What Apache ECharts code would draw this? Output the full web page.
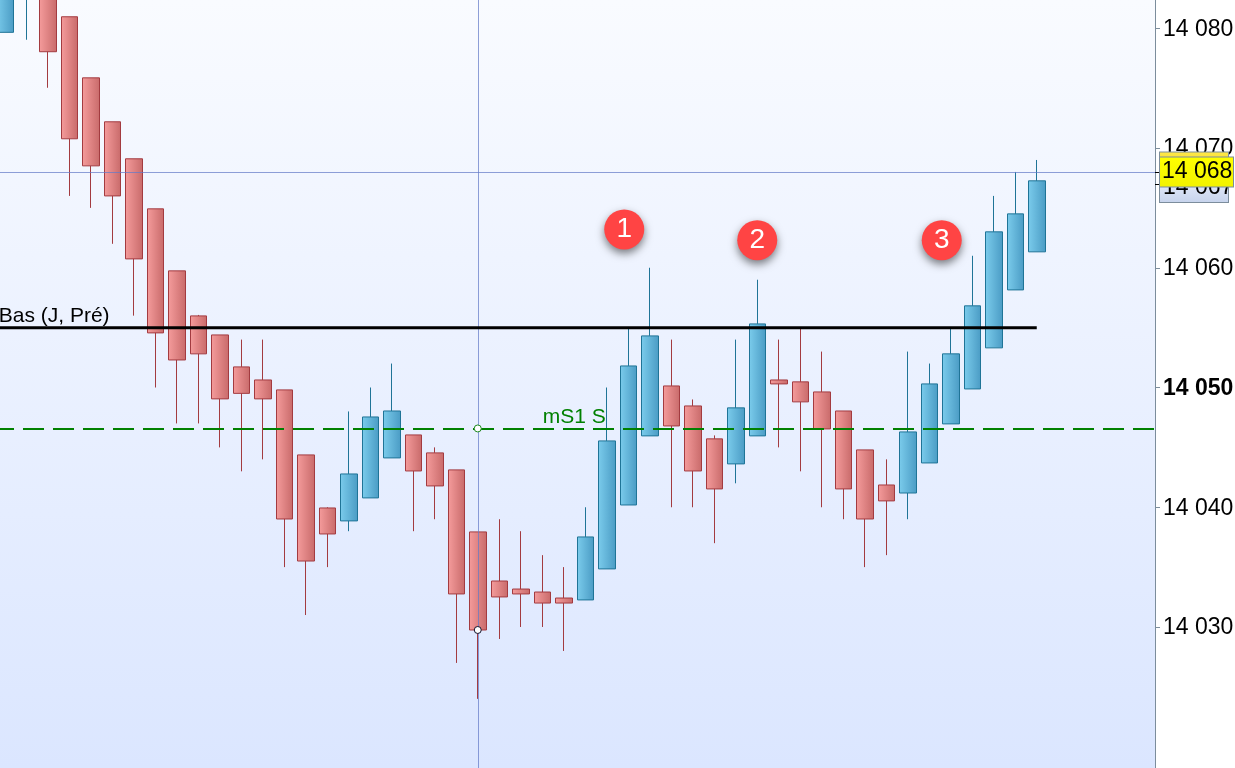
<!DOCTYPE html>
<html>
<head>
<meta charset="utf-8">
<style>html,body{margin:0;padding:0;background:#fff;overflow:hidden}#c{width:1235px;height:768px}</style>
<script src="https://cdn.jsdelivr.net/npm/echarts@6/dist/echarts.min.js"></script>
</head>
<body>
<div id="c"></div>
<script>
// Bars (oldest first)
const opens  = [14079.66,14083,14083.5,14080.96,14075.86,14072.19,14069.1,14064.92,14059.74,14055.98,14054.39,14051.72,14050.63,14049.8,14044.37,14039.94,14038.86,14040.78,14044.12,14046.04,14044.54,14043.12,14037.94,14033.84,14033.17,14032.92,14032.42,14032.26,14034.85,14040.19,14045.96,14050.13,14048.46,14045.71,14043.62,14045.96,14050.63,14050.47,14049.63,14048.04,14044.79,14041.86,14041.19,14043.7,14046.96,14049.88,14053.31,14058.15,14061.33];
const closes = [14085,14086,14078.04,14070.77,14068.51,14066,14060.74,14054.56,14052.3,14052.81,14049.05,14049.51,14049.05,14039.02,14035.51,14037.77,14042.78,14047.54,14048.04,14043.03,14041.78,14032.76,14029.75,14032.51,14032.76,14032,14032,14037.52,14045.54,14051.8,14054.31,14046.79,14043.03,14041.53,14048.3,14055.31,14050.3,14048.8,14046.54,14041.53,14039.02,14040.53,14046.29,14050.3,14052.81,14056.82,14063,14064.5,14067.26];
const lows   = [14079.66,14079.04,14075.03,14066,14065,14062,14056,14050,14047,14047,14045,14043,14044,14035,14031,14035,14038,14040.78,14044.12,14038,14039,14027,14024,14029,14030,14030,14028,14032.26,14034.85,14040.19,14045.96,14040,14040,14037,14042,14045.96,14045,14043,14040,14039,14035,14036,14039,14043.7,14046.96,14049.88,14053.31,14058.15,14061.33];
const highs  = [14087,14088,14084,14080.96,14075.86,14072.19,14069.1,14064.92,14059.74,14056.06,14054.39,14054,14054,14049.8,14044.37,14040,14048,14050,14052,14046.04,14045,14043.12,14037.94,14039,14038,14036,14035,14040,14050,14055,14060,14054,14049,14046,14054,14059,14054,14055,14053,14048.04,14044.79,14044,14053,14052,14055,14061,14066,14068,14069];

const tickValues = [14030,14040,14050,14060,14070,14080];
const boldTick = 14050;
const basLevel = 14055;
const s1Level = 14046.58;
const lastPrice = 14068;
const otherPrice = 14067;
const hiddenPrice = 14069;
const crossBar = 22;
const badgeNumbers = ['1','2','3'];
const badgeBars = [29,35,44];
const badgeValues = [14063.2,14062.3,14062.3];
const badgeShift = [-4,0,-9];

// one empty slot before the first bar, five after the last
const padBefore = 1, padAfter = 5;
const categories = Array.from({length: padBefore + opens.length + padAfter}, (_, i) => String(i - padBefore));
const candles = categories.map((c, i) => {
  const k = i - padBefore;
  return k >= 0 && k < opens.length ? [opens[k], closes[k], lows[k], highs[k]] : '-';
});
const slot = k => k + padBefore;
const fmt = v => String(v).slice(0, 2) + ' ' + String(v).slice(2);

const chart = echarts.init(document.getElementById('c'), null, {renderer: 'canvas', width: 1235, height: 768});
const LG = echarts.graphic.LinearGradient;
const hGrad = (a, b) => new LG(0, 0, 1, 0, [{offset: 0, color: a}, {offset: 1, color: b}]);
const vGrad = (a, b) => new LG(0, 0, 0, 1, [{offset: 0, color: a}, {offset: 1, color: b}]);
const FONT = '"Liberation Sans", Arial, sans-serif';
const CROSS = 'rgba(100,122,200,0.72)';
const tagFont = {fontFamily: FONT, fontSize: 23, color: '#000', lineHeight: 31};

chart.setOption({
  animation: false,
  backgroundColor: '#ffffff',
  grid: {
    left: -27.5, top: 0, width: 1182.5, height: 768, show: true, borderWidth: 0,
    outerBoundsMode: 'none',
    backgroundColor: vGrad('#F9FBFF', '#DBE6FF')
  },
  xAxis: {type: 'category', data: categories, show: false, boundaryGap: true},
  yAxis: [{
    type: 'value', position: 'right', min: 14018.225, max: 14082.36, scale: true,
    splitLine: {show: false},
    axisLine: {show: true, lineStyle: {color: '#7C8D9C', width: 1}},
    axisTick: {show: true, length: 5, lineStyle: {color: '#7C8D9C'}, customValues: tickValues},
    axisLabel: {
      show: true, margin: 8, fontFamily: FONT, fontSize: 23, color: '#000', padding: [2, 0, 0, 0],
      customValues: tickValues,
      formatter: v => v === boldTick ? '{b|' + fmt(v) + '}' : fmt(v),
      rich: {b: {fontFamily: FONT, fontSize: 23, fontWeight: 'bold', color: '#000'}}
    }
  }, {
    type: 'value', position: 'right', min: 14018.225, max: 14082.36, scale: true,
    splitLine: {show: false}, axisLine: {show: false},
    axisTick: {show: true, length: 5, lineStyle: {color: '#000'}, customValues: [lastPrice, otherPrice]},
    axisLabel: {show: false}
  }],
  series: [
    {
      type: 'candlestick', name: 'Prix', data: candles, barWidth: 17, z: 2,
      itemStyle: {
        color: hGrad('#7BCCEC', '#4A9BC4'), color0: hGrad('#F59C9C', '#C86A6A'),
        borderColor: '#1F7497', borderColor0: '#A33B40', borderWidth: 1
      },
      markLine: {
        silent: true, symbol: 'none', animation: false, z: 3,
        label: {show: false}, emphasis: {disabled: true},
        lineStyle: {color: CROSS, width: 1, type: 'solid'},
        data: [{xAxis: slot(crossBar)}, {yAxis: lastPrice}]
      }
    },
    {
      type: 'line', name: 'Bas (J, Pré)', z: 4, showSymbol: false, symbol: 'none', silent: true,
      lineStyle: {color: '#000', width: 3},
      data: categories.map((c, i) => i <= slot(opens.length - 1) ? basLevel : '-'),
      markLine: {
        silent: true, symbol: 'none', animation: false, z: 4,
        label: {show: false},
        lineStyle: {color: '#008000', width: 2, type: [21, 9], dashOffset: 9.5},
        data: [{yAxis: s1Level}]
      }
    },
    {
      type: 'scatter', name: 'niveaux', z: 5, symbol: 'circle', symbolSize: 7, silent: true,
      data: [
        {value: [slot(crossBar), s1Level], itemStyle: {opacity: 1, color: '#fff', borderColor: '#1E8A1E', borderWidth: 1}},
        {value: [slot(crossBar), closes[crossBar]], itemStyle: {opacity: 1, color: '#fff', borderColor: '#10102A', borderWidth: 1}}
      ]
    },
    {
      type: 'scatter', name: 'labels', z: 6, symbol: 'circle', symbolSize: 1, silent: true,
      itemStyle: {opacity: 1, color: 'transparent'},
      data: [
        {value: [slot(0), basLevel], label: {show: true, formatter: 'Bas (J, Pré)', position: 'top', align: 'left', distance: 0, offset: [-6, 0], fontFamily: FONT, fontSize: 21, color: '#000'}},
        {value: [slot(27), s1Level], label: {show: true, formatter: 'mS1 S', position: 'top', distance: 0, offset: [-11, 0], fontFamily: FONT, fontSize: 21, color: '#008000'}}
      ]
    },
    {
      type: 'scatter', name: 'repères', z: 7, symbol: 'circle', symbolSize: 40, silent: true,
      itemStyle: {opacity: 1, color: '#FF4444', shadowColor: 'rgba(0,0,0,0.5)', shadowBlur: 8, shadowOffsetY: 4},
      label: {show: true, position: 'inside', fontFamily: FONT, fontSize: 28, color: '#fff', formatter: p => p.data.tag},
      data: badgeNumbers.map((t, i) => ({value: [slot(badgeBars[i]), badgeValues[i]], tag: t, symbolOffset: [badgeShift[i], 0]}))
    },
    {
      type: 'line', name: 'étiquettes', z: 8, data: [], clip: false, silent: true,
      markLine: {
        silent: true, symbol: 'none', animation: false, z: 8,
        lineStyle: {width: 0},
        label: {show: true, position: 'end', distance: 5},
        data: [
          {yAxis: hiddenPrice, label: {formatter: ' ', offset: [0, 6.5], width: 68, height: 28, backgroundColor: vGrad('#FFE94A', '#E8C800'), borderColor: '#7C8D9C', borderWidth: 1}},
          {yAxis: otherPrice, label: Object.assign({}, tagFont, {formatter: fmt(otherPrice), offset: [0, 3.5], padding: [1, 3, 1, 3], width: 62, height: 27, align: 'left', backgroundColor: vGrad('#F2F5FF', '#C6D3EC'), borderColor: '#7C8D9C', borderWidth: 1})},
          {yAxis: lastPrice, label: Object.assign({}, tagFont, {formatter: fmt(lastPrice), padding: [1, 2, 1, 2], width: 69, height: 27, align: 'left', backgroundColor: vGrad('#FFFF00', '#F2F200'), borderColor: '#7C8D9C', borderWidth: 1})}
        ]
      }
    }
  ]
});
</script>
</body>
</html>
